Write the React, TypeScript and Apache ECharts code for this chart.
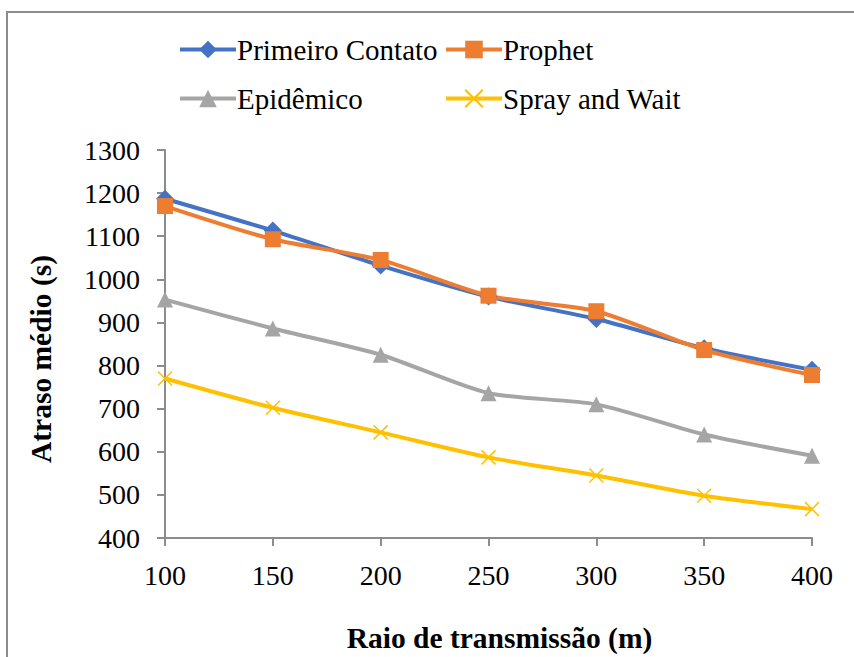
import React, { useEffect, useRef } from "react";
import * as echarts from "echarts";

const categories = ["100", "150", "200", "250", "300", "350", "400"];
const primeiroContato = [1187, 1113, 1032, 960, 908, 840, 790];
const prophet = [1170, 1093, 1045, 962, 926, 836, 778];
const epidemico = [953, 886, 825, 736, 710, 640, 591];
const sprayAndWait = [770, 702, 645, 587, 545, 498, 467];
const yTicks = { min: 400, max: 1300, interval: 100 };

const FONT = "Liberation Serif";
const CROSS = "path://M0,0L10,10M10,0L0,10";

export default function App() {
  const ref = useRef<HTMLDivElement>(null);
  useEffect(() => {
    document.body.style.margin = "0";
    if (!ref.current) return;
    const chart = echarts.init(ref.current, undefined, { renderer: "svg" });
    const mk = (name: string, data: number[], color: string, symbol: string, size: number, extra: any = {}) => ({
      name,
      type: "line",
      data,
      smooth: 0.25,
      symbol,
      symbolSize: size,
      lineStyle: { color, width: 4 },
      itemStyle: { color, ...extra },
      emphasis: { disabled: true },
    });
    const legendText = { fontFamily: FONT, fontSize: 29, color: "#000", padding: [0, 0, 0, -4] };
    const legendBase = {
      orient: "vertical",
      top: 30,
      itemWidth: 56,
      itemHeight: 22,
      itemGap: 20,
      textStyle: legendText,
      lineStyle: { width: 4 },
    };
    chart.setOption({
      animation: false,
      textStyle: { fontFamily: FONT },
      graphic: [
        {
          type: "rect",
          shape: { x: 7, y: 12, width: 900, height: 700 },
          style: { fill: "none", stroke: "#8c8c8c", lineWidth: 2 },
          silent: true,
        },
      ],
      legend: [
        { ...legendBase, data: ["Primeiro Contato", "Epidêmico"], left: 173 },
        { ...legendBase, data: ["Prophet", "Spray and Wait"], left: 439 },
      ],
      grid: { left: 165, right: 42, top: 150, bottom: 119, containLabel: false, outerBoundsMode: "none" },
      xAxis: {
        type: "category",
        data: categories,
        boundaryGap: false,
        name: "Raio de transmissão (m)",
        nameLocation: "middle",
        nameGap: 85,
        nameTextStyle: { fontFamily: FONT, fontSize: 29.5, fontWeight: "bold", color: "#000", padding: [0, 0, 0, 22] },
        axisLine: { lineStyle: { color: "#8c8c8c", width: 2 } },
        axisTick: { alignWithLabel: true, length: 8, lineStyle: { color: "#8c8c8c", width: 2 } },
        axisLabel: { fontFamily: FONT, fontSize: 28, color: "#000", margin: 23 },
        splitLine: { show: false },
      },
      yAxis: {
        type: "value",
        min: yTicks.min,
        max: yTicks.max,
        interval: yTicks.interval,
        name: "Atraso médio (s)",
        nameLocation: "middle",
        nameGap: 109,
        nameTextStyle: { fontFamily: FONT, fontSize: 29.5, fontWeight: "bold", color: "#000", padding: [0, 30, 0, 0] },
        axisLine: { show: true, lineStyle: { color: "#8c8c8c", width: 2 } },
        axisTick: { show: true, length: 8, lineStyle: { color: "#8c8c8c", width: 2 } },
        axisLabel: { fontFamily: FONT, fontSize: 28, color: "#000", margin: 25, formatter: (v: number) => String(v) },
        splitLine: { show: false },
      },
      series: [
        mk("Primeiro Contato", primeiroContato, "#4472C4", "diamond", 18),
        mk("Prophet", prophet, "#ED7D31", "rect", 16),
        mk("Epidêmico", epidemico, "#A5A5A5", "triangle", 16),
        mk("Spray and Wait", sprayAndWait, "#FFC000", CROSS, 14, { borderColor: "#FFC000", borderWidth: 1.5, color: "none" }),
      ],
    });
    return () => chart.dispose();
  }, []);
  return <div ref={ref} style={{ width: 854, height: 657 }} />;
}
